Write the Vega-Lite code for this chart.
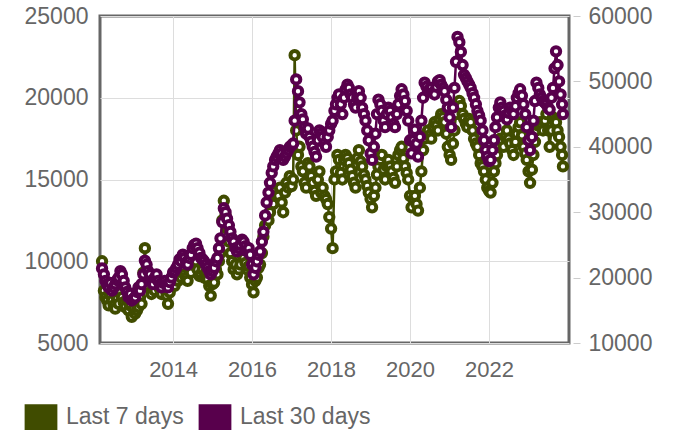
{
  "$schema": "https://vega.github.io/schema/vega-lite/v6.json",
  "autosize": {"type": "none"},
  "padding": {"left": 100, "top": 16, "right": 108, "bottom": 88},
  "width": 469,
  "height": 327,
  "config": {
    "view": {"stroke": "#666", "strokeWidth": 3},
    "font": "Liberation Sans",
    "axis": {"labelFont": "Liberation Sans", "labelFontSize": 22, "labelColor": "#666", "gridColor": "#ddd", "gridWidth": 1, "domain": false, "title": null},
    "legend": {"labelFont": "Liberation Sans", "labelFontSize": 23, "labelColor": "#666"}
  },
  "data": {"values": [
    {"date":"2012-03-15","last7":10000,"last30":21400},
    {"date":"2012-04-01","last7":8200,"last30":20500},
    {"date":"2012-04-15","last7":7800,"last30":19500},
    {"date":"2012-05-01","last7":7600,"last30":19000},
    {"date":"2012-05-15","last7":7300,"last30":18500},
    {"date":"2012-06-01","last7":7900,"last30":19200},
    {"date":"2012-06-15","last7":7600,"last30":18000},
    {"date":"2012-07-01","last7":7300,"last30":18500},
    {"date":"2012-07-15","last7":7100,"last30":19000},
    {"date":"2012-08-01","last7":7700,"last30":19600},
    {"date":"2012-08-15","last7":7400,"last30":20000},
    {"date":"2012-09-01","last7":8100,"last30":21000},
    {"date":"2012-09-15","last7":7800,"last30":20500},
    {"date":"2012-10-01","last7":7500,"last30":19500},
    {"date":"2012-10-15","last7":7200,"last30":18500},
    {"date":"2012-11-01","last7":7600,"last30":17800},
    {"date":"2012-11-15","last7":7000,"last30":17000},
    {"date":"2012-12-01","last7":7300,"last30":17500},
    {"date":"2012-12-15","last7":6600,"last30":16500},
    {"date":"2013-01-01","last7":7100,"last30":16800},
    {"date":"2013-01-15","last7":6800,"last30":17000},
    {"date":"2013-02-01","last7":7000,"last30":17800},
    {"date":"2013-02-15","last7":7200,"last30":18500},
    {"date":"2013-03-01","last7":7800,"last30":18000},
    {"date":"2013-03-15","last7":7400,"last30":19000},
    {"date":"2013-04-01","last7":9300,"last30":20500},
    {"date":"2013-04-15","last7":10800,"last30":22600},
    {"date":"2013-05-01","last7":9200,"last30":22000},
    {"date":"2013-05-15","last7":8500,"last30":21000},
    {"date":"2013-06-01","last7":8800,"last30":20500},
    {"date":"2013-06-15","last7":8000,"last30":19500},
    {"date":"2013-07-01","last7":8400,"last30":19000},
    {"date":"2013-07-15","last7":8200,"last30":20000},
    {"date":"2013-08-01","last7":8900,"last30":20500},
    {"date":"2013-08-15","last7":8600,"last30":19500},
    {"date":"2013-09-01","last7":8300,"last30":19000},
    {"date":"2013-09-15","last7":8000,"last30":18500},
    {"date":"2013-10-01","last7":8700,"last30":19200},
    {"date":"2013-10-15","last7":8300,"last30":19500},
    {"date":"2013-11-01","last7":7900,"last30":19000},
    {"date":"2013-11-15","last7":7400,"last30":18500},
    {"date":"2013-12-01","last7":8100,"last30":19300},
    {"date":"2013-12-15","last7":8500,"last30":20000},
    {"date":"2014-01-01","last7":8900,"last30":20800},
    {"date":"2014-01-15","last7":8500,"last30":21000},
    {"date":"2014-02-01","last7":9100,"last30":21500},
    {"date":"2014-02-15","last7":8800,"last30":22000},
    {"date":"2014-03-01","last7":9400,"last30":22800},
    {"date":"2014-03-15","last7":9000,"last30":22500},
    {"date":"2014-04-01","last7":9600,"last30":23500},
    {"date":"2014-04-15","last7":9200,"last30":23000},
    {"date":"2014-05-01","last7":9000,"last30":22300},
    {"date":"2014-05-15","last7":8800,"last30":22000},
    {"date":"2014-06-01","last7":9600,"last30":23000},
    {"date":"2014-06-15","last7":9300,"last30":23500},
    {"date":"2014-07-01","last7":10200,"last30":24500},
    {"date":"2014-07-15","last7":9800,"last30":25000},
    {"date":"2014-08-01","last7":10000,"last30":25200},
    {"date":"2014-08-15","last7":9500,"last30":24500},
    {"date":"2014-09-01","last7":9100,"last30":23800},
    {"date":"2014-09-15","last7":9200,"last30":23000},
    {"date":"2014-10-01","last7":9500,"last30":22800},
    {"date":"2014-10-15","last7":9000,"last30":22500},
    {"date":"2014-11-01","last7":9300,"last30":22000},
    {"date":"2014-11-15","last7":8900,"last30":21500},
    {"date":"2014-12-01","last7":8500,"last30":21000},
    {"date":"2014-12-15","last7":7900,"last30":20500},
    {"date":"2015-01-01","last7":8600,"last30":21000},
    {"date":"2015-01-15","last7":8700,"last30":21500},
    {"date":"2015-02-01","last7":9500,"last30":22500},
    {"date":"2015-02-15","last7":9200,"last30":23000},
    {"date":"2015-03-01","last7":10000,"last30":24500},
    {"date":"2015-03-15","last7":10500,"last30":26000},
    {"date":"2015-04-01","last7":12500,"last30":28500},
    {"date":"2015-04-15","last7":13700,"last30":30600},
    {"date":"2015-05-01","last7":12800,"last30":30000},
    {"date":"2015-05-15","last7":12000,"last30":29000},
    {"date":"2015-06-01","last7":11200,"last30":28000},
    {"date":"2015-06-15","last7":10500,"last30":27000},
    {"date":"2015-07-01","last7":10000,"last30":26000},
    {"date":"2015-07-15","last7":9500,"last30":25500},
    {"date":"2015-08-01","last7":9800,"last30":24500},
    {"date":"2015-08-15","last7":9200,"last30":24000},
    {"date":"2015-09-01","last7":9500,"last30":24500},
    {"date":"2015-09-15","last7":9800,"last30":25000},
    {"date":"2015-10-01","last7":10400,"last30":25800},
    {"date":"2015-10-15","last7":10200,"last30":25500},
    {"date":"2015-11-01","last7":9900,"last30":24800},
    {"date":"2015-11-15","last7":9500,"last30":24000},
    {"date":"2015-12-01","last7":9700,"last30":24500},
    {"date":"2015-12-15","last7":9000,"last30":23500},
    {"date":"2016-01-01","last7":8600,"last30":22000},
    {"date":"2016-01-15","last7":8100,"last30":20500},
    {"date":"2016-02-01","last7":8800,"last30":21500},
    {"date":"2016-02-15","last7":9000,"last30":22500},
    {"date":"2016-03-01","last7":9600,"last30":23500},
    {"date":"2016-03-15","last7":9800,"last30":24000},
    {"date":"2016-04-01","last7":10500,"last30":25500},
    {"date":"2016-04-15","last7":11500,"last30":27000},
    {"date":"2016-05-01","last7":12200,"last30":29500},
    {"date":"2016-05-15","last7":12800,"last30":31500},
    {"date":"2016-06-01","last7":12500,"last30":33000},
    {"date":"2016-06-15","last7":13000,"last30":34500},
    {"date":"2016-07-01","last7":13800,"last30":36000},
    {"date":"2016-07-15","last7":13500,"last30":37000},
    {"date":"2016-08-01","last7":14300,"last30":38000},
    {"date":"2016-08-15","last7":14000,"last30":38500},
    {"date":"2016-09-01","last7":14000,"last30":39000},
    {"date":"2016-09-15","last7":14500,"last30":39500},
    {"date":"2016-10-01","last7":13600,"last30":39000},
    {"date":"2016-10-15","last7":13000,"last30":38000},
    {"date":"2016-11-01","last7":14200,"last30":38500},
    {"date":"2016-11-15","last7":14800,"last30":39000},
    {"date":"2016-12-01","last7":14500,"last30":39500},
    {"date":"2016-12-15","last7":15200,"last30":40000},
    {"date":"2017-01-01","last7":14600,"last30":40200},
    {"date":"2017-01-15","last7":15000,"last30":40500},
    {"date":"2017-01-29","last7":22600,"last30":44000},
    {"date":"2017-02-12","last7":18000,"last30":50300},
    {"date":"2017-03-01","last7":16500,"last30":48500},
    {"date":"2017-03-15","last7":17000,"last30":46800},
    {"date":"2017-04-01","last7":15800,"last30":45000},
    {"date":"2017-04-15","last7":15500,"last30":44200},
    {"date":"2017-05-01","last7":14800,"last30":43000},
    {"date":"2017-05-15","last7":14500,"last30":42000},
    {"date":"2017-06-01","last7":16000,"last30":42800},
    {"date":"2017-06-15","last7":15800,"last30":41500},
    {"date":"2017-07-01","last7":15200,"last30":40800},
    {"date":"2017-07-15","last7":14800,"last30":40000},
    {"date":"2017-08-01","last7":14300,"last30":39200},
    {"date":"2017-08-15","last7":14000,"last30":38500},
    {"date":"2017-09-01","last7":15000,"last30":41000},
    {"date":"2017-09-15","last7":15500,"last30":42500},
    {"date":"2017-10-01","last7":14200,"last30":42000},
    {"date":"2017-10-15","last7":14500,"last30":41500},
    {"date":"2017-11-01","last7":14000,"last30":40500},
    {"date":"2017-11-15","last7":13800,"last30":40000},
    {"date":"2017-12-01","last7":13500,"last30":41500},
    {"date":"2017-12-15","last7":12700,"last30":42500},
    {"date":"2018-01-01","last7":12000,"last30":43500},
    {"date":"2018-01-15","last7":10800,"last30":44000},
    {"date":"2018-02-01","last7":15000,"last30":45500},
    {"date":"2018-02-15","last7":15500,"last30":46500},
    {"date":"2018-03-01","last7":16500,"last30":47500},
    {"date":"2018-03-15","last7":16200,"last30":48000},
    {"date":"2018-04-01","last7":15400,"last30":46500},
    {"date":"2018-04-15","last7":15000,"last30":45000},
    {"date":"2018-05-01","last7":16200,"last30":47500},
    {"date":"2018-05-15","last7":16500,"last30":48800},
    {"date":"2018-06-01","last7":16300,"last30":49500},
    {"date":"2018-06-15","last7":16000,"last30":49000},
    {"date":"2018-07-01","last7":15600,"last30":48000},
    {"date":"2018-07-15","last7":15200,"last30":47500},
    {"date":"2018-08-01","last7":14800,"last30":46500},
    {"date":"2018-08-15","last7":14500,"last30":46000},
    {"date":"2018-09-01","last7":16300,"last30":47500},
    {"date":"2018-09-15","last7":16800,"last30":48500},
    {"date":"2018-10-01","last7":16100,"last30":47500},
    {"date":"2018-10-15","last7":15800,"last30":46000},
    {"date":"2018-11-01","last7":15300,"last30":45000},
    {"date":"2018-11-15","last7":15000,"last30":44000},
    {"date":"2018-12-01","last7":14600,"last30":42500},
    {"date":"2018-12-15","last7":14200,"last30":41000},
    {"date":"2019-01-01","last7":13800,"last30":39000},
    {"date":"2019-01-15","last7":13300,"last30":38000},
    {"date":"2019-02-01","last7":14000,"last30":40000},
    {"date":"2019-02-15","last7":14500,"last30":42000},
    {"date":"2019-03-01","last7":15300,"last30":45000},
    {"date":"2019-03-15","last7":15800,"last30":47200},
    {"date":"2019-04-01","last7":16200,"last30":46500},
    {"date":"2019-04-15","last7":16500,"last30":45500},
    {"date":"2019-05-01","last7":15600,"last30":44000},
    {"date":"2019-05-15","last7":15000,"last30":43000},
    {"date":"2019-06-01","last7":15800,"last30":45000},
    {"date":"2019-06-15","last7":16200,"last30":46000},
    {"date":"2019-07-01","last7":15800,"last30":45500},
    {"date":"2019-07-15","last7":15500,"last30":44500},
    {"date":"2019-08-01","last7":15100,"last30":43500},
    {"date":"2019-08-15","last7":14800,"last30":43000},
    {"date":"2019-09-01","last7":15800,"last30":45000},
    {"date":"2019-09-15","last7":16500,"last30":46500},
    {"date":"2019-10-01","last7":16800,"last30":47800},
    {"date":"2019-10-15","last7":17000,"last30":48800},
    {"date":"2019-11-01","last7":16300,"last30":48000},
    {"date":"2019-11-15","last7":15800,"last30":47000},
    {"date":"2019-12-01","last7":15400,"last30":45500},
    {"date":"2019-12-15","last7":15000,"last30":44000},
    {"date":"2020-01-01","last7":14000,"last30":41000},
    {"date":"2020-01-15","last7":13300,"last30":39000},
    {"date":"2020-02-01","last7":13800,"last30":41000},
    {"date":"2020-02-15","last7":14000,"last30":42600},
    {"date":"2020-03-01","last7":13500,"last30":40500},
    {"date":"2020-03-15","last7":13100,"last30":38500},
    {"date":"2020-04-01","last7":14500,"last30":41500},
    {"date":"2020-04-15","last7":15500,"last30":44000},
    {"date":"2020-05-01","last7":16800,"last30":47500},
    {"date":"2020-05-15","last7":17500,"last30":49800},
    {"date":"2020-06-01","last7":17800,"last30":49200},
    {"date":"2020-06-15","last7":18000,"last30":48500},
    {"date":"2020-07-01","last7":17700,"last30":48800},
    {"date":"2020-07-15","last7":17500,"last30":49000},
    {"date":"2020-08-01","last7":18200,"last30":48300},
    {"date":"2020-08-15","last7":18500,"last30":48000},
    {"date":"2020-09-01","last7":18300,"last30":49200},
    {"date":"2020-09-15","last7":18000,"last30":50000},
    {"date":"2020-10-01","last7":18700,"last30":50200},
    {"date":"2020-10-15","last7":19000,"last30":49500},
    {"date":"2020-11-01","last7":18800,"last30":49000},
    {"date":"2020-11-15","last7":18500,"last30":48500},
    {"date":"2020-12-01","last7":17800,"last30":47200},
    {"date":"2020-12-15","last7":17000,"last30":46000},
    {"date":"2021-01-01","last7":16500,"last30":44500},
    {"date":"2021-01-15","last7":16200,"last30":43000},
    {"date":"2021-02-01","last7":17200,"last30":46000},
    {"date":"2021-02-15","last7":18000,"last30":49000},
    {"date":"2021-03-01","last7":19000,"last30":53000},
    {"date":"2021-03-15","last7":19700,"last30":56800},
    {"date":"2021-04-01","last7":19800,"last30":56000},
    {"date":"2021-04-15","last7":19500,"last30":54500},
    {"date":"2021-05-01","last7":19000,"last30":52500},
    {"date":"2021-05-15","last7":18700,"last30":51000},
    {"date":"2021-06-01","last7":18400,"last30":50500},
    {"date":"2021-06-15","last7":18200,"last30":50000},
    {"date":"2021-07-01","last7":18700,"last30":49500},
    {"date":"2021-07-15","last7":18500,"last30":49000},
    {"date":"2021-08-01","last7":18000,"last30":48200},
    {"date":"2021-08-15","last7":17500,"last30":47500},
    {"date":"2021-09-01","last7":17200,"last30":46500},
    {"date":"2021-09-15","last7":17000,"last30":45500},
    {"date":"2021-10-01","last7":16500,"last30":44800},
    {"date":"2021-10-15","last7":16000,"last30":44000},
    {"date":"2021-11-01","last7":15800,"last30":42500},
    {"date":"2021-11-15","last7":15500,"last30":41000},
    {"date":"2021-12-01","last7":15000,"last30":39500},
    {"date":"2021-12-15","last7":14500,"last30":38500},
    {"date":"2022-01-01","last7":14300,"last30":37800},
    {"date":"2022-01-15","last7":14200,"last30":38000},
    {"date":"2022-02-01","last7":14800,"last30":39500},
    {"date":"2022-02-15","last7":15500,"last30":41000},
    {"date":"2022-03-01","last7":16000,"last30":43000},
    {"date":"2022-03-15","last7":16500,"last30":44500},
    {"date":"2022-04-01","last7":17000,"last30":46000},
    {"date":"2022-04-15","last7":17500,"last30":46800},
    {"date":"2022-05-01","last7":17300,"last30":46000},
    {"date":"2022-05-15","last7":17000,"last30":45500},
    {"date":"2022-06-01","last7":17600,"last30":44800},
    {"date":"2022-06-15","last7":18000,"last30":44200},
    {"date":"2022-07-01","last7":17500,"last30":45200},
    {"date":"2022-07-15","last7":17200,"last30":46000},
    {"date":"2022-08-01","last7":16800,"last30":45500},
    {"date":"2022-08-15","last7":16500,"last30":45000},
    {"date":"2022-09-01","last7":17300,"last30":46200},
    {"date":"2022-09-15","last7":17800,"last30":47500},
    {"date":"2022-10-01","last7":18200,"last30":48200},
    {"date":"2022-10-15","last7":18500,"last30":48800},
    {"date":"2022-11-01","last7":17700,"last30":47800},
    {"date":"2022-11-15","last7":17000,"last30":46500},
    {"date":"2022-12-01","last7":16600,"last30":45000},
    {"date":"2022-12-15","last7":16200,"last30":43000},
    {"date":"2023-01-01","last7":15500,"last30":41000},
    {"date":"2023-01-15","last7":14800,"last30":39500},
    {"date":"2023-02-01","last7":15600,"last30":41500},
    {"date":"2023-02-15","last7":16500,"last30":44000},
    {"date":"2023-03-01","last7":17300,"last30":47000},
    {"date":"2023-03-15","last7":18000,"last30":49800},
    {"date":"2023-04-01","last7":18300,"last30":49000},
    {"date":"2023-04-15","last7":18500,"last30":48000},
    {"date":"2023-05-01","last7":18200,"last30":47500},
    {"date":"2023-05-15","last7":18000,"last30":47000},
    {"date":"2023-06-01","last7":18600,"last30":46800},
    {"date":"2023-06-15","last7":19000,"last30":46500},
    {"date":"2023-07-01","last7":18000,"last30":46000},
    {"date":"2023-07-15","last7":17000,"last30":45700},
    {"date":"2023-08-01","last7":18000,"last30":47500},
    {"date":"2023-08-15","last7":18800,"last30":49000},
    {"date":"2023-08-29","last7":18600,"last30":52000},
    {"date":"2023-09-12","last7":18500,"last30":54600},
    {"date":"2023-09-26","last7":18000,"last30":52500},
    {"date":"2023-10-10","last7":17600,"last30":50000},
    {"date":"2023-10-24","last7":17000,"last30":48000},
    {"date":"2023-11-07","last7":16500,"last30":46500},
    {"date":"2023-11-15","last7":15800,"last30":45000}
  ]},
  "encoding": {
    "x": {
      "field": "date", "type": "temporal",
      "scale": {"domain": [{"year": 2012, "month": 2, "date": 25}, {"year": 2024, "month": 1, "date": 10}]},
      "axis": {"values": [{"year": 2014, "month": 1, "date": 1}, {"year": 2016, "month": 1, "date": 1}, {"year": 2018, "month": 1, "date": 1}, {"year": 2020, "month": 1, "date": 1}, {"year": 2022, "month": 1, "date": 1}],
               "format": "%Y", "grid": true, "ticks": false, "tickSize": 0, "labelPadding": 16, "labelFlush": false}
    }
  },
  "layer": [
    {
      "encoding": {
        "y": {"field": "last7", "type": "quantitative", "scale": {"domain": [5000, 25000], "nice": false, "zero": false},
              "axis": {"orient": "left", "values": [5000, 10000, 15000, 20000, 25000], "format": "d", "labelFontSize": 23, "grid": true, "ticks": false, "tickSize": 0, "labelPadding": 12}},
        "color": {"datum": "Last 7 days", "type": "nominal",
                  "scale": {"domain": ["Last 7 days", "Last 30 days"], "range": ["#404c00", "#58004c"]},
                  "legend": {"orient": "none", "legendX": -72, "legendY": 388, "direction": "horizontal", "title": null,
                             "symbolType": "M-1.3,-1L1.3,-1L1.3,1L-1.3,1Z", "symbolSize": 560, "symbolStrokeWidth": 2, "symbolStrokeColor": "#ccc",
                             "labelOffset": 12, "columnPadding": 11, "padding": 0,
                             "encode": {"symbols": {"update": {"fill": {"scale": "color", "field": "value"}, "stroke": {"value": "#ccc"}, "strokeWidth": {"value": 2}, "opacity": {"value": 1}}}}}}
      },
      "layer": [
        {"mark": {"type": "line", "strokeWidth": 2.5}},
        {"mark": {"type": "point", "filled": false, "fill": "white", "fillOpacity": 1, "opacity": 1, "strokeWidth": 4, "size": 70}}
      ]
    },
    {
      "encoding": {
        "y": {"field": "last30", "type": "quantitative", "scale": {"domain": [10000, 60000], "nice": false, "zero": false},
              "axis": {"orient": "right", "values": [10000, 20000, 30000, 40000, 50000, 60000], "format": "d", "labelFontSize": 23, "grid": false, "ticks": true, "tickSize": 7, "tickColor": "#ccc", "offset": 4, "labelPadding": 8}},
        "color": {"datum": "Last 30 days", "type": "nominal"}
      },
      "layer": [
        {"mark": {"type": "line", "strokeWidth": 2.5}},
        {"mark": {"type": "point", "filled": false, "fill": "white", "fillOpacity": 1, "opacity": 1, "strokeWidth": 4, "size": 70}}
      ]
    }
  ],
  "resolve": {"scale": {"y": "independent"}}
}
